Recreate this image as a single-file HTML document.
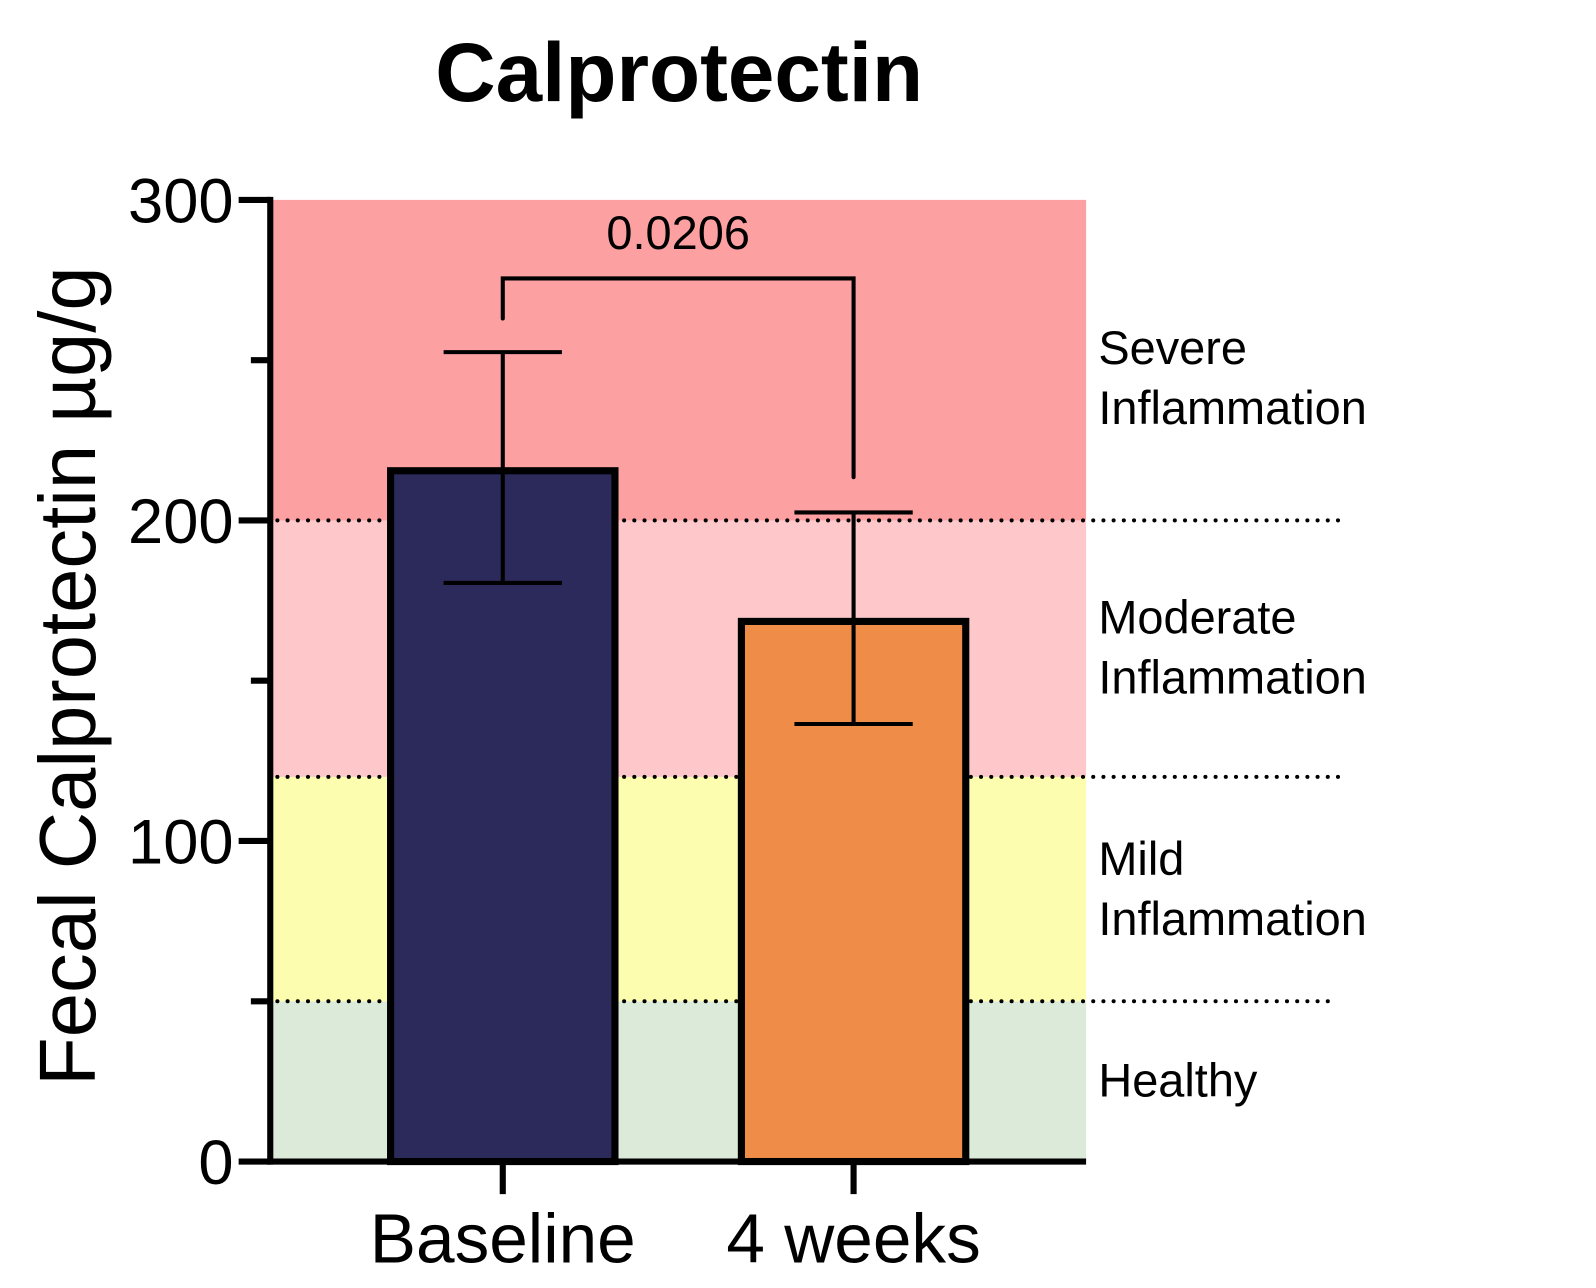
<!DOCTYPE html>
<html><head><meta charset="utf-8"><style>
html,body{margin:0;padding:0;background:#fff;}
svg{display:block;font-family:"Liberation Sans",Arial,sans-serif;}
</style></head><body>
<svg id="chart" width="1596" height="1288" viewBox="0 0 1565 1263">
<g id="bands"></g>
<g id="dots"></g>
<g id="bars"></g>
<g id="axes"></g>
<text x="666" y="99" text-anchor="middle" font-size="82" font-weight="bold">Calprotectin</text>
<text transform="translate(93,663) rotate(-90)" text-anchor="middle" font-size="78">Fecal Calprotectin µg/g</text>
</svg>
<script>
const categories = ["Baseline", "4 weeks"];
const means = [215.5, 168.5];
const errUpper = [252.5, 202.5];
const errLower = [180.5, 136.5];
const yTicks = [0, 100, 200, 300];
const bandLimits = [0, 50, 120, 200, 300];
const bandNames = ["Healthy", "Mild Inflammation", "Moderate Inflammation", "Severe Inflammation"];
const pValue = "0.0206";

const NS = "http://www.w3.org/2000/svg";
const X0 = 265, X1 = 1065, Y0 = 1139, Y300 = 196;
const y = v => Y0 - (v / 300) * (Y0 - Y300);
const xCenter = i => 493 + i * 344;
const barHalf = 110;
function mk(tag, attrs, parent, text) {
  const e = document.createElementNS(NS, tag);
  for (const k in attrs) e.setAttribute(k, attrs[k]);
  if (text !== undefined) e.textContent = text;
  parent.appendChild(e);
  return e;
}
const bands = document.getElementById('bands');
const dots = document.getElementById('dots');
const bars = document.getElementById('bars');
const axes = document.getElementById('axes');
const svg = document.getElementById('chart');
const bandColors = ["#dcebd9", "#fdfdb0", "#fec8ca", "#fca0a2"];
const labelY = [[1075], [858, 917], [621, 680], [357, 416]];
for (let i = 0; i < 4; i++) {
  const r = mk('rect', {x: X0, y: y(bandLimits[i + 1]), width: X1 - X0, height: y(bandLimits[i]) - y(bandLimits[i + 1]), fill: bandColors[i]}, bands);
  
  
  const words = bandNames[i].split(' ');
  words.forEach((w, j) => {
    const t = mk('text', {x: 1077, y: labelY[i][j], 'font-size': 46}, svg, w);
    
    
  });
}
for (let i = 1; i < 4; i++) {
  const xe = i === 1 ? 1308 : 1318;
  const l = mk('line', {x1: 272, x2: xe, y1: y(bandLimits[i]), y2: y(bandLimits[i]), stroke: '#000', 'stroke-width': 4, 'stroke-dasharray': '0 10', 'stroke-linecap': 'round'}, dots);
  
  
}
const barColors = ["#2b2a5a", "#ef8d48"];
categories.forEach((c, i) => {
  const cx = xCenter(i);
  const r = mk('rect', {x: cx - barHalf, y: y(means[i]), width: barHalf * 2, height: Y0 - y(means[i]), fill: barColors[i], stroke: '#000', 'stroke-width': 7}, bars);
  
  
  const g = mk('g', {stroke: '#000', 'stroke-width': 4}, bars);
  
  
  mk('line', {x1: cx, x2: cx, y1: y(errUpper[i]), y2: y(errLower[i])}, g);
  mk('line', {x1: cx - 58, x2: cx + 58, y1: y(errUpper[i]), y2: y(errUpper[i])}, g);
  mk('line', {x1: cx - 58, x2: cx + 58, y1: y(errLower[i]), y2: y(errLower[i])}, g);
  const t = mk('text', {x: cx, y: 1238, 'text-anchor': 'middle', 'font-size': 68}, svg, c);
  
  
  mk('line', {x1: cx, x2: cx, y1: Y0, y2: 1171, stroke: '#000', 'stroke-width': 6}, axes);
});
const by = y(275.5);
const br = mk('path', {d: `M${xCenter(0)} ${y(263)} V${by} H${xCenter(1)} V${y(213.5)}`, fill: 'none', stroke: '#000', 'stroke-width': 4, 'stroke-linecap': 'round'}, svg);


const pt = mk('text', {x: (xCenter(0) + xCenter(1)) / 2, y: 244, 'text-anchor': 'middle', 'font-size': 46}, svg, pValue);


mk('line', {x1: X0, x2: X0, y1: Y300 - 3, y2: Y0 + 3, stroke: '#000', 'stroke-width': 6}, axes);
mk('line', {x1: X0 - 3, x2: X1, y1: Y0, y2: Y0, stroke: '#000', 'stroke-width': 6}, axes);
for (let v = 0; v <= 300; v += 50) {
  const major = v % 100 === 0;
  mk('line', {x1: major ? 234 : 246, x2: X0, y1: y(v), y2: y(v), stroke: '#000', 'stroke-width': 6}, axes);
}
yTicks.forEach(v => {
  const t = mk('text', {x: 229, y: y(v) + 22, 'text-anchor': 'end', 'font-size': 62}, svg, String(v));
  
  
});
</script>
</body></html>
